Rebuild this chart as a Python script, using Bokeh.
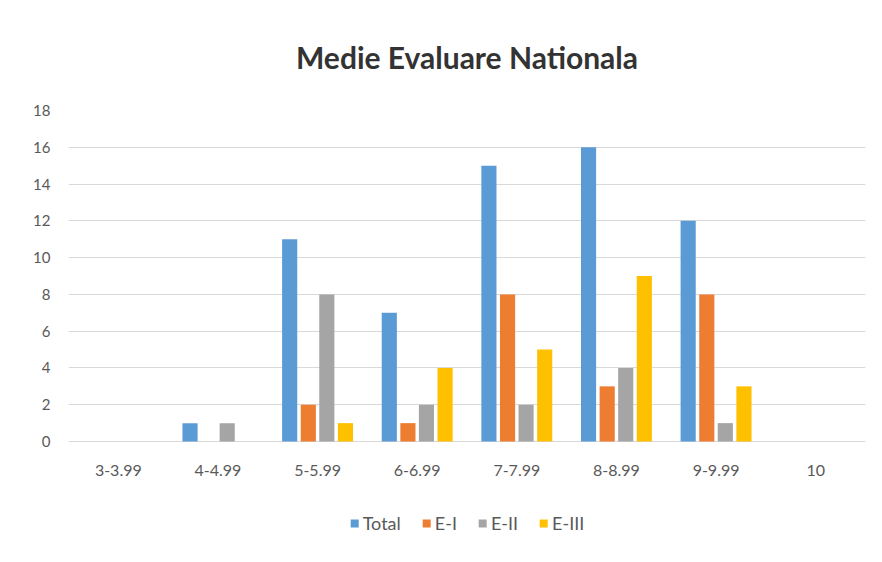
from bokeh.plotting import figure
from bokeh.models import Range1d, FactorRange, Legend, LegendItem, FixedTicker, ColumnDataSource
from bokeh.core.properties import value
from bokeh.transform import dodge
from bokeh.embed import file_html
from bokeh.resources import INLINE

categories = ["3-3.99", "4-4.99", "5-5.99", "6-6.99", "7-7.99", "8-8.99", "9-9.99", "10"]
total = [0, 1, 11, 7, 15, 16, 12, 0]
e_i = [0, 0, 2, 1, 8, 3, 8, 0]
e_ii = [0, 1, 8, 2, 2, 4, 1, 0]
e_iii = [0, 0, 1, 4, 5, 9, 3, 0]
series_names = ["Total", "E-I", "E-II", "E-III"]
colors = ["#5B9BD5", "#ED7D31", "#A5A5A5", "#FFC000"]
yticks = [0, 2, 4, 6, 8, 10, 12, 14, 16, 18]

src = ColumnDataSource(dict(cat=categories, total=total, e_i=e_i, e_ii=e_ii, e_iii=e_iii,
                            lab_y=[-1.6] * len(categories)))

FONT = "Lato"
p = figure(x_range=FactorRange(*categories), y_range=Range1d(-5.6, 18),
           frame_width=797, frame_height=434, output_backend="svg", toolbar_location=None,
           min_border_left=68, min_border_right=6, min_border_top=109, min_border_bottom=4)
p.outline_line_color = None
p.border_fill_color = "white"

p.title.text = "Medie Evaluare Nationala"
p.title.align = "center"
p.title.text_font = FONT
p.title.text_font_style = "bold"
p.title.text_font_size = "30px"
p.title.text_color = "#333333"
p.title.standoff = 72

cols = ["total", "e_i", "e_ii", "e_iii"]
offsets = [-0.28, -0.093, 0.093, 0.28]
renderers = []
for c, off, col in zip(cols, offsets, colors):
    r = p.vbar(x=dodge("cat", off, range=p.x_range), top=c, width=0.152, source=src,
               fill_color=col, line_color=None)
    renderers.append(r)

# category labels (x axis)
p.text(x="cat", y="lab_y", text="cat", source=src, text_align="center", text_baseline="middle",
       text_font=value(FONT), text_font_size="16px", text_color="#595959")

p.yaxis.ticker = FixedTicker(ticks=yticks)
p.yaxis.axis_line_color = None
p.yaxis.major_tick_line_color = None
p.yaxis.minor_tick_line_color = None
p.yaxis.major_label_text_font = FONT
p.yaxis.major_label_text_font_size = "15px"
p.yaxis.major_label_text_color = "#595959"
p.yaxis.major_label_standoff = 12

p.xaxis.visible = False
p.xgrid.grid_line_color = None
p.ygrid.grid_line_color = "#d9d9d9"

legend = Legend(items=[LegendItem(label=n, renderers=[r]) for n, r in zip(series_names, renderers)],
                orientation="horizontal", location="bottom_center")
legend.border_line_color = None
legend.background_fill_alpha = 0
legend.label_text_font = FONT
legend.label_text_font_size = "18px"
legend.label_text_color = "#595959"
legend.glyph_width = 10
legend.glyph_height = 10
legend.label_standoff = 4
legend.spacing = 20
legend.margin = 10
legend.padding = 0
p.add_layout(legend, "center")

open("out.html", "w").write(file_html(p, INLINE))
